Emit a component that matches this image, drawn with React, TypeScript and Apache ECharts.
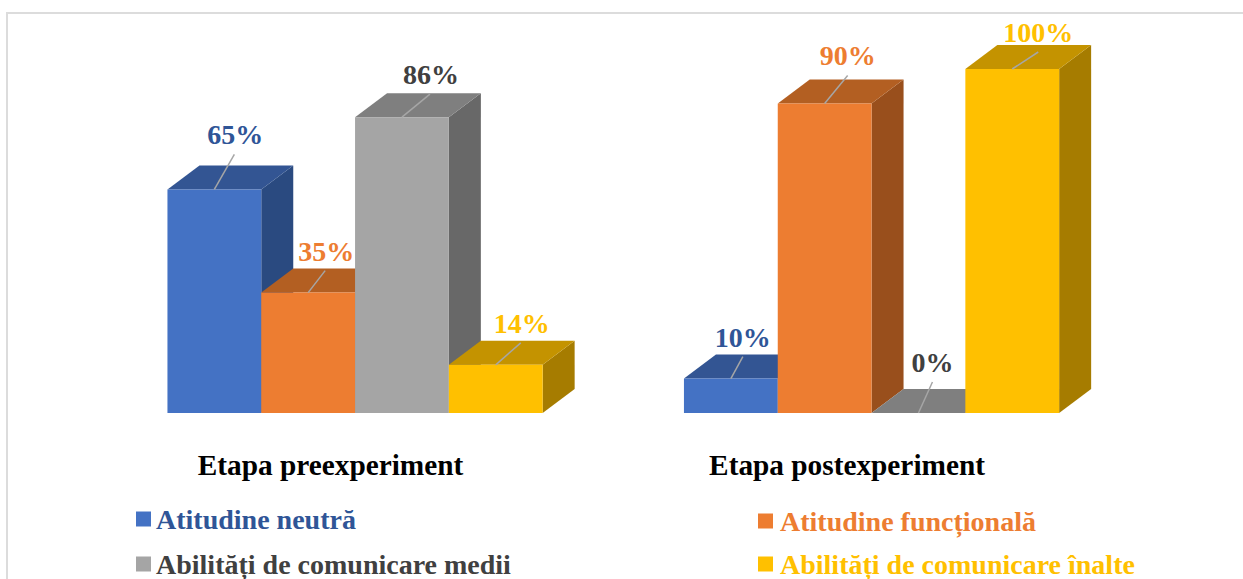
import React, { useEffect, useRef } from "react";
import * as echarts from "echarts";

const categories = ["Etapa preexperiment", "Etapa postexperiment"];
const seriesNames = [
  "Atitudine neutră",
  "Atitudine funcțională",
  "Abilități de comunicare medii",
  "Abilități de comunicare înalte",
];
const neutra = [65, 10];
const functionala = [35, 90];
const medii = [86, 0];
const inalte = [14, 100];
const seriesValues = [neutra, functionala, medii, inalte];

const FONT = '"Liberation Serif", "Times New Roman", serif';
const frontColors = ["#4472c4", "#ed7d31", "#a5a5a5", "#ffc000"];
const topColors = ["#335593", "#b35f22", "#7f7f7f", "#c49300"];
const sideColors = ["#2a4a80", "#994f1c", "#686868", "#a67c00"];
const textColors = ["#2f5597", "#ed7d31", "#404040", "#ffc000"];
// leader-line end relative to the top centre of each bar's front face
const leaderOffsets = [
  [[20, -35], [12, -22]],
  [[17, -22], [23, -28]],
  [[28, -23], [14, -31]],
  [[25, -22], [26, -17]],
];
const legendPos = [
  { left: 136, top: 505, pad: 0 },
  { left: 758, top: 507, pad: 2 },
  { left: 136, top: 550, pad: 0 },
  { left: 758, top: 550, pad: 2 },
];
const DX = 32;
const DY = 24;
const BAR_FRACTION = 375.2 / 516.5 / 4;

export default function App() {
  const ref = useRef<HTMLDivElement>(null);
  useEffect(() => {
    const chart = echarts.init(ref.current!, null, { renderer: "svg" });
    chart.setOption({
      animation: false,
      backgroundColor: "#ffffff",
      grid: { left: 96.8, top: 69, width: 1033, height: 344, containLabel: false },
      xAxis: {
        type: "category",
        data: categories,
        axisLine: { show: false },
        axisTick: { show: false },
        axisLabel: {
          margin: 37,
          fontFamily: FONT,
          fontWeight: "bold",
          fontSize: 29.3,
          color: "#000000",
          padding: [0, 49, 0, 0],
        },
      },
      yAxis: { type: "value", min: 0, max: 100, show: false },
      legend: seriesNames.map((name, i) => ({
        data: [{ name, icon: "rect" }],
        left: legendPos[i].left,
        top: legendPos[i].top,
        itemWidth: 15,
        itemHeight: 15,
        itemGap: 0,
        padding: 0,
        selectedMode: false,
        textStyle: {
          fontFamily: FONT,
          fontWeight: "bold",
          fontSize: 28,
          color: textColors[i],
          padding: [0, 0, 0, legendPos[i].pad],
        },
      })),
      graphic: [
        {
          type: "polyline",
          silent: true,
          shape: { points: [[7, 579], [7, 13], [1243, 13]] },
          style: { stroke: "#dcdcdc", lineWidth: 2, fill: "none" },
        },
      ],
      series: seriesNames.map((name, s) => ({
        type: "custom",
        name,
        itemStyle: { color: frontColors[s] },
        encode: { x: 0, y: 1 },
        data: seriesValues[s].map((v, c) => [c, v]),
        renderItem: (_params: any, api: any) => {
          const c = api.value(0);
          const v = api.value(1);
          const [cx, yTop] = api.coord([c, v]);
          const [, yBase] = api.coord([c, 0]);
          const barW = api.size([1, 0])[0] * BAR_FRACTION;
          const x0 = cx + (s - 2) * barW;
          const x1 = x0 + barW;
          const mid = (x0 + x1) / 2;
          const [ox, oy] = leaderOffsets[s][c];
          const poly = (points: number[][], fill: string) => ({
            type: "polygon",
            shape: { points },
            style: { fill, stroke: null },
          });
          return {
            type: "group",
            children: [
              poly([[x1, yTop], [x1 + DX, yTop - DY], [x1 + DX, yBase - DY], [x1, yBase]], sideColors[s]),
              poly([[x0, yTop], [x0 + DX, yTop - DY], [x1 + DX, yTop - DY], [x1, yTop]], topColors[s]),
              poly([[x0, yTop], [x1, yTop], [x1, yBase], [x0, yBase]], frontColors[s]),
              {
                type: "line",
                shape: { x1: mid, y1: yTop, x2: mid + ox, y2: yTop + oy },
                style: { stroke: "#a6a6a6", lineWidth: 1.5 },
              },
              {
                type: "text",
                x: mid + ox + (c === 0 ? 1 : 0),
                y: yTop + oy - 19.5,
                style: {
                  text: v + "%",
                  fontFamily: FONT,
                  fontWeight: "bold",
                  fontSize: 28,
                  fill: textColors[s],
                  align: "center",
                  verticalAlign: "middle",
                },
              },
            ],
          };
        },
      })),
    });
    return () => chart.dispose();
  }, []);
  return (
    <div
      ref={ref}
      style={{ position: "absolute", left: 0, top: 0, width: 1243, height: 579 }}
    />
  );
}
